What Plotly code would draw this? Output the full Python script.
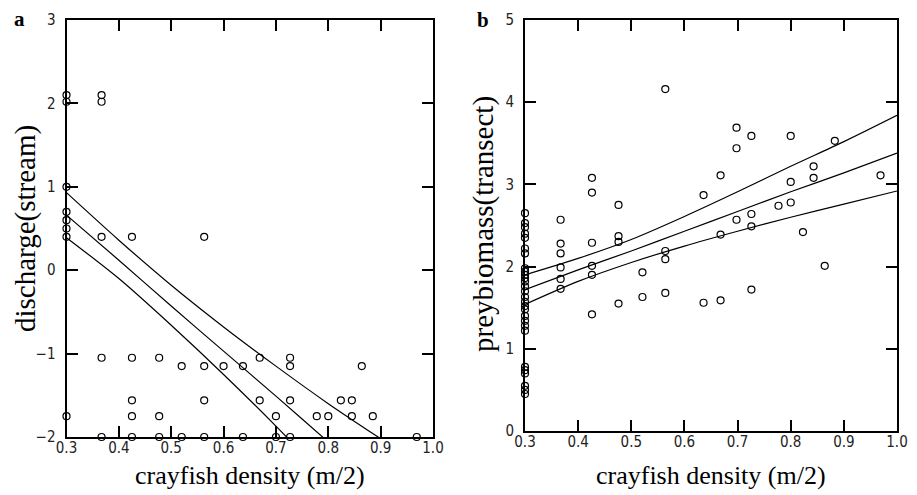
import plotly.graph_objects as go

# ---------------- Panel a: discharge(stream) vs crayfish density ----------------
a_x = [0.3, 0.3, 0.3, 0.3, 0.3, 0.3, 0.3, 0.3,
       0.367, 0.367, 0.367, 0.367, 0.367,
       0.425, 0.425, 0.425, 0.425, 0.425,
       0.477, 0.477, 0.477,
       0.52, 0.52,
       0.563, 0.563, 0.563, 0.563,
       0.60,
       0.637, 0.637,
       0.669, 0.669,
       0.70, 0.70,
       0.727, 0.727, 0.727, 0.727,
       0.778, 0.80, 0.824, 0.845, 0.845, 0.864, 0.885, 0.969]
a_y = [2.10, 2.02, 1.00, 0.70, 0.60, 0.50, 0.40, -1.75,
       2.10, 2.02, 0.40, -1.05, -2.0,
       0.40, -1.05, -1.56, -1.75, -2.0,
       -1.05, -1.75, -2.0,
       -1.15, -2.0,
       0.40, -1.15, -1.56, -2.0,
       -1.15,
       -1.15, -2.0,
       -1.05, -1.56,
       -1.75, -2.0,
       -1.05, -1.15, -1.56, -2.0,
       -1.75, -1.75, -1.56, -1.56, -1.75, -1.15, -1.75, -2.0]

a_line_x = [0.3, 0.4, 0.5, 0.6, 0.7, 0.8, 0.9]
a_fit = [0.66, 0.12, -0.43, -0.97, -1.51, -2.06, -2.60]
a_upper = [0.93, 0.36, -0.18, -0.68, -1.15, -1.60, -2.02]
a_lower = [0.39, -0.10, -0.66, -1.25, -1.87, -2.52, -3.18]

# ---------------- Panel b: preybiomass(transect) vs crayfish density ----------------
b_x = ([0.3] * 28 +
       [0.367] * 6 + [0.426] * 6 + [0.476] * 4 + [0.521] * 2 + [0.564] * 4 +
       [0.636] * 2 + [0.668] * 3 + [0.698] * 3 + [0.726] * 4 + [0.777] +
       [0.800] * 3 + [0.823] + [0.843] * 2 + [0.864] + [0.883] + [0.969])
b_y = ([2.65, 2.53, 2.48, 2.40, 2.35, 2.22, 2.16, 1.98, 1.94, 1.90, 1.86, 1.82,
        1.76, 1.70, 1.63, 1.57, 1.52, 1.48, 1.40, 1.34, 1.28, 1.22, 0.78, 0.74,
        0.70, 0.55, 0.50, 0.45] +
       [2.57, 2.28, 2.16, 1.99, 1.85, 1.73] +
       [3.08, 2.90, 2.29, 2.01, 1.90, 1.42] +
       [2.75, 2.37, 2.30, 1.55] +
       [1.93, 1.63] +
       [4.16, 2.19, 2.09, 1.68] +
       [2.87, 1.56] +
       [3.11, 2.39, 1.59] +
       [3.69, 3.44, 2.57] +
       [3.59, 2.64, 2.49, 1.72] +
       [2.74] +
       [3.59, 3.03, 2.78] +
       [2.42] +
       [3.22, 3.08] +
       [2.01] + [3.53] + [3.11])

b_line_x = [0.3, 0.4, 0.5, 0.6, 0.7, 0.8, 0.9, 1.0]
b_fit = [1.72, 1.96, 2.19, 2.43, 2.67, 2.91, 3.14, 3.38]
b_upper = [1.90, 2.10, 2.33, 2.61, 2.91, 3.22, 3.52, 3.84]
b_lower = [1.54, 1.82, 2.05, 2.25, 2.43, 2.60, 2.76, 2.92]

x_ticks = [0.3, 0.4, 0.5, 0.6, 0.7, 0.8, 0.9, 1.0]
x_ticklabels = ["0.3", "0.4", "0.5", "0.6", "0.7", "0.8", "0.9", "1.0"]
a_yticks = [-2, -1, 0, 1, 2, 3]
b_yticks = [0, 1, 2, 3, 4, 5]

x_title = "crayfish density (m/2)"
a_ytitle = "discharge(stream)"
b_ytitle = "preybiomass(transect)"

W, H = 917, 495
OFF = 8  # page body margin offset in the browser
TICKFONT = dict(family="Liberation Sans Narrow, DejaVu Sans Condensed, Liberation Sans", size=15, color="#222")
SERIF = "Liberation Serif"

fig = go.Figure()

marker = dict(symbol="circle-open", size=7, color="black", line=dict(width=1.2, color="black"))
linestyle = dict(color="black", width=1.2, shape="spline", smoothing=0.8)

# panel a
fig.add_trace(go.Scatter(x=a_x, y=a_y, mode="markers", marker=marker, cliponaxis=False,
                         xaxis="x", yaxis="y", showlegend=False))
for ys in (a_upper, a_fit, a_lower):
    fig.add_trace(go.Scatter(x=a_line_x, y=ys, mode="lines", line=linestyle,
                             xaxis="x", yaxis="y", showlegend=False))
# panel b
fig.add_trace(go.Scatter(x=b_x, y=b_y, mode="markers", marker=marker, cliponaxis=False,
                         xaxis="x2", yaxis="y2", showlegend=False))
for ys in (b_upper, b_fit, b_lower):
    fig.add_trace(go.Scatter(x=b_line_x, y=ys, mode="lines", line=linestyle,
                             xaxis="x2", yaxis="y2", showlegend=False))

def px_x(p):
    return (p - OFF) / W

def px_y(p):
    return 1 - (p - OFF) / H

axis_common = dict(showline=True, linecolor="black", linewidth=2, mirror="ticks",
                   ticks="inside", ticklen=11, tickwidth=2, tickcolor="black",
                   showgrid=False, zeroline=False, tickfont=TICKFONT, fixedrange=True,
                   automargin=False)
xaxis_extra = dict(ticklabelstandoff=-4)
yaxis_extra = dict(ticklabelstandoff=6)

fig.update_layout(
    template="none",
    width=W, height=H,
    margin=dict(l=0, r=0, t=0, b=0, pad=0),
    paper_bgcolor="white", plot_bgcolor="white",
    xaxis=dict(domain=[px_x(66.5), px_x(433)], range=[0.3, 1.0], anchor="y",
               tickvals=x_ticks, ticktext=x_ticklabels, **axis_common, **xaxis_extra),
    yaxis=dict(domain=[px_y(437), px_y(20)], range=[-2, 3], anchor="x",
               tickvals=a_yticks, **axis_common, **yaxis_extra),
    xaxis2=dict(domain=[px_x(525), px_x(897)], range=[0.3, 1.0], anchor="y2",
                tickvals=x_ticks, ticktext=x_ticklabels, **axis_common, **xaxis_extra),
    yaxis2=dict(domain=[px_y(431), px_y(20)], range=[0, 5], anchor="x2",
                tickvals=b_yticks, **axis_common, **yaxis_extra),
)

annotations = [
    dict(text="<b>a</b>", x=px_x(19), y=px_y(19)),
    dict(text="<b>b</b>", x=px_x(483), y=px_y(20)),
    dict(text=x_title, x=px_x(250), y=px_y(475)),
    dict(text=x_title, x=px_x(711), y=px_y(475)),
    dict(text=a_ytitle, x=px_x(25), y=px_y(229), textangle=-90),
    dict(text=b_ytitle, x=px_x(484), y=px_y(224), textangle=-90),
]
sizes = [21, 21, 26, 26, 29, 29]
for an, s in zip(annotations, sizes):
    an.update(xref="paper", yref="paper", showarrow=False, xanchor="center",
              yanchor="middle", font=dict(family=SERIF, size=s, color="black"))
fig.update_layout(annotations=annotations)

fig.write_html("out.html")
